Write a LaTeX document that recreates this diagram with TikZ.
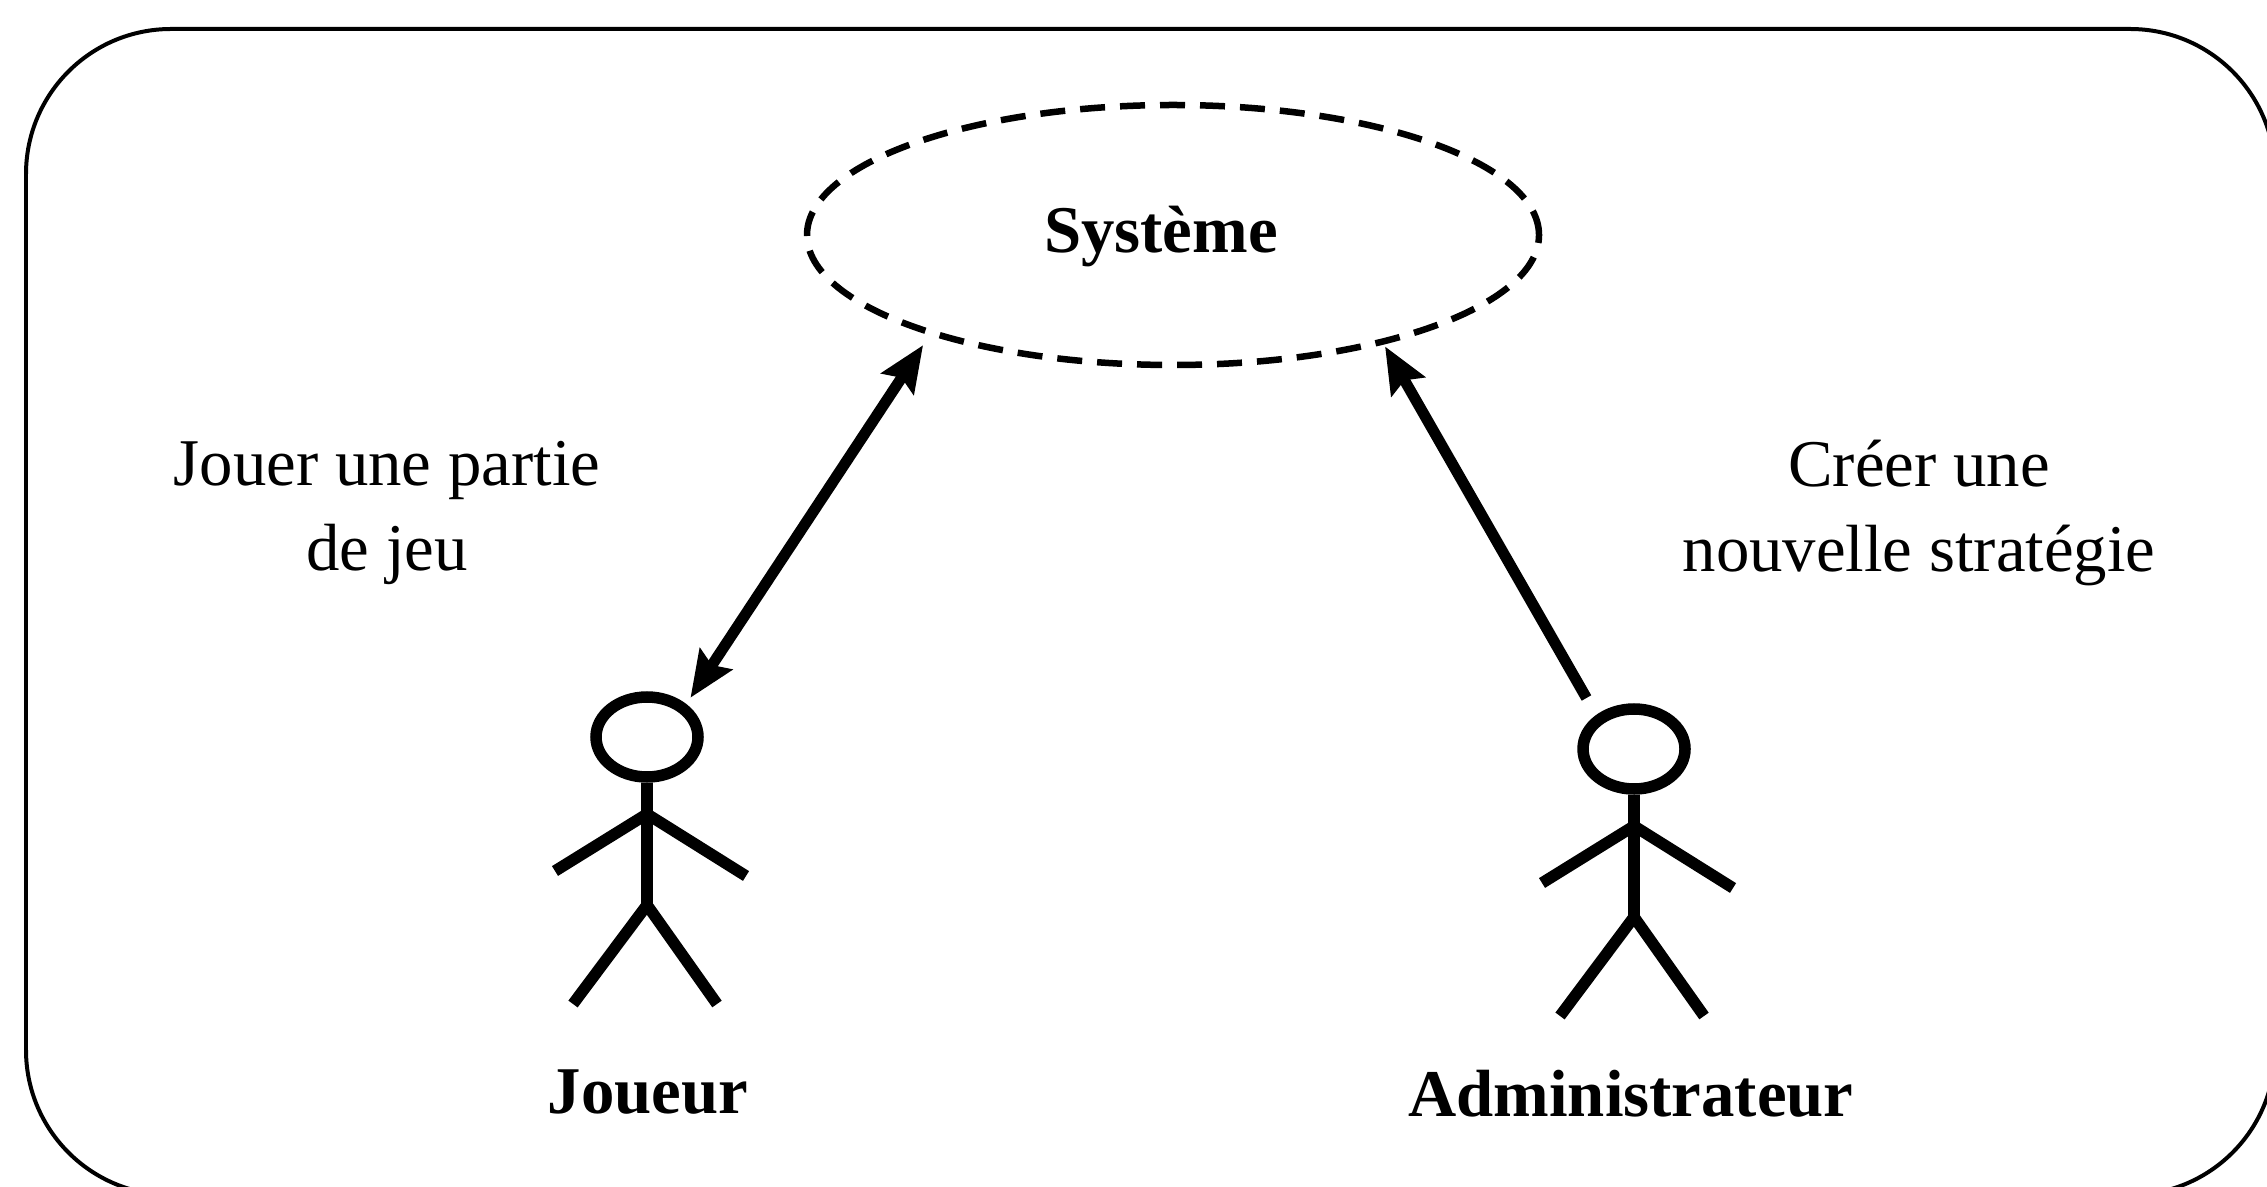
\documentclass[tikz,border=0pt]{standalone}
\usepackage{fontspec}
\setmainfont{Liberation Serif}
\usetikzlibrary{arrows.meta,shapes.geometric}
\tikzset{
  texte/.style={align=center,font=\fontsize{19pt}{24pt}\selectfont},
  titre/.style={font=\fontsize{19pt}{24pt}\selectfont\bfseries},
  tete/.style={draw,ellipse,line width=.115cm,inner sep=0pt,minimum width=1.02cm,minimum height=.8cm},
  corps/.style={line width=.115cm},
  lien/.style={line width=.11cm,{Stealth[length=.46cm,width=.38cm,inset=.07cm]}-{Stealth[length=.46cm,width=.38cm,inset=.07cm]}},
  lienun/.style={line width=.11cm,-{Stealth[length=.46cm,width=.38cm,inset=.07cm]}}
}
\begin{document}
\begin{tikzpicture}
  \useasboundingbox (0,0) rectangle (22.67,11.86);
  %cadre
  \draw[line width=.04cm,rounded corners=1.45cm] (.26,-.09) rectangle (22.75,11.57);
  %systeme
  \node[draw,ellipse,dash pattern=on .25cm off .15cm,line width=.065cm,inner sep=0pt,outer sep=0pt,minimum width=7.32cm,minimum height=2.6cm] (systeme) at (11.73,9.51) {};
  \node[titre] (nomsysteme) at (11.61,9.49) {Système};
  %joueur
  \node[tete] (joueur) at (6.47,4.49) {};
  \draw[corps] (joueur.south) -- (6.47,2.81);
  \draw[corps] (5.55,3.15) -- (6.47,3.72) -- (7.46,3.10);
  \draw[corps] (5.73,1.82) -- (6.47,2.81) -- (7.17,1.82);
  \node[titre] (nomjoueur) at (6.48,.94) {Joueur};
  %administrateur
  \node[tete] (admin) at (16.34,4.37) {};
  \draw[corps] (admin.south) -- (16.34,2.69);
  \draw[corps] (15.42,3.03) -- (16.34,3.60) -- (17.33,2.98);
  \draw[corps] (15.60,1.70) -- (16.34,2.69) -- (17.04,1.70);
  \node[titre] (nomadmin) at (16.31,.92) {Administrateur};
  %fleches
  \draw[lien,shorten <=.075cm,shorten >=.15cm] (joueur.40.6) -- (systeme.202.2);
  \draw[lienun,shorten <=.195cm,shorten >=.055cm] (admin.138) -- (systeme.333.3);
  %textes
  \node[texte] (jouer) at (3.87,6.73) {Jouer une partie\\de jeu};
  \node[texte] (creer) at (19.19,6.73) {Créer une\\nouvelle stratégie};
\end{tikzpicture}
\end{document}
